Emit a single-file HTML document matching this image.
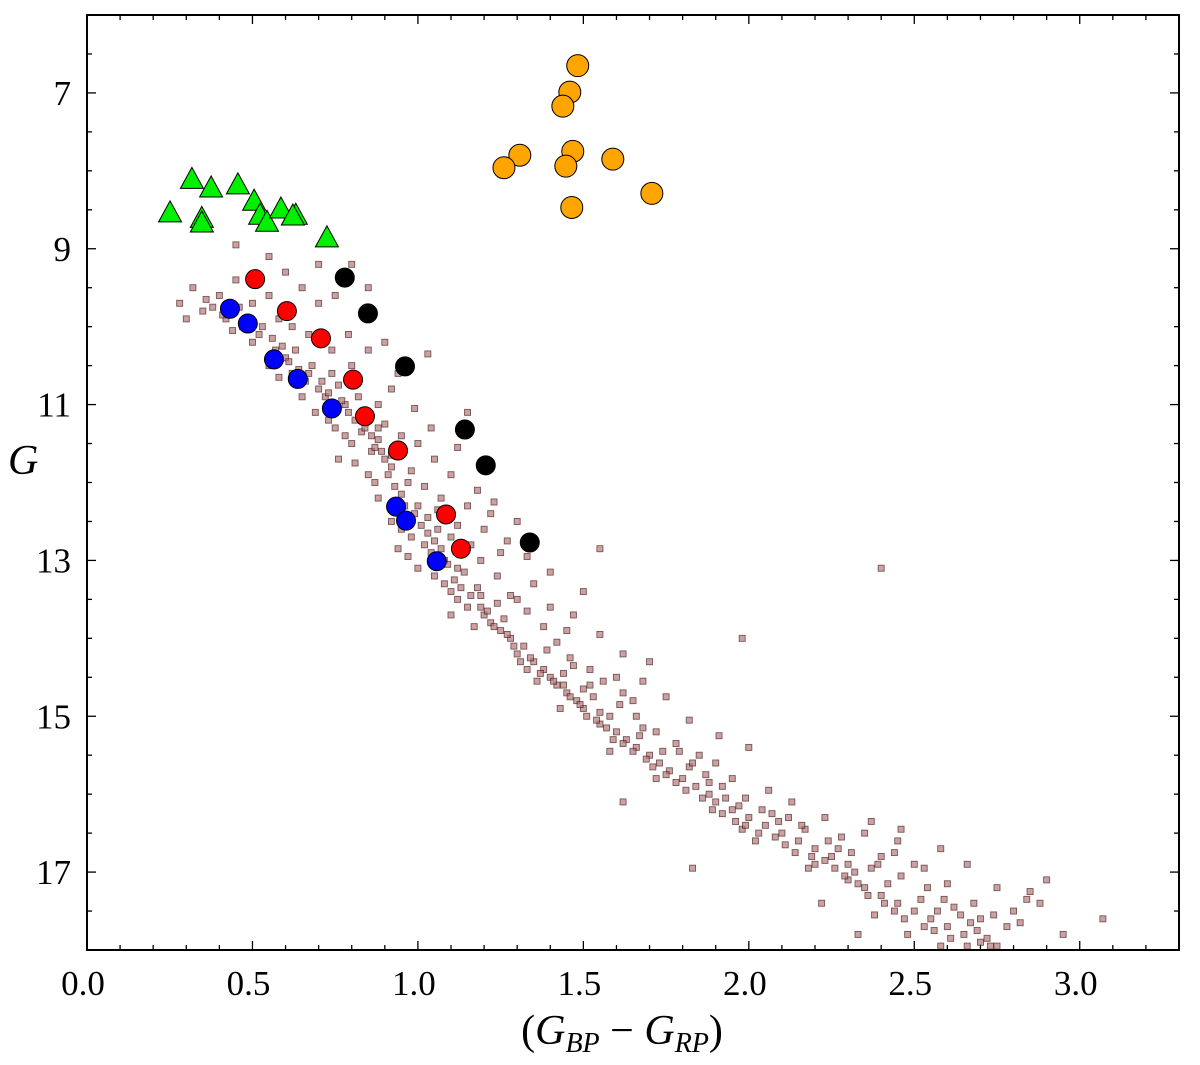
<!DOCTYPE html>
<html><head><meta charset="utf-8"><style>
body{margin:0;background:#fff;}
svg text{font-family:"Liberation Serif",serif;fill:#000;}
</style></head><body>
<svg id="chart" width="1200" height="1060" xmlns="http://www.w3.org/2000/svg">
<g id="bg"></g>
<g id="marks"></g>
<g id="axes"></g>
</svg>
<script>
const xTicks=[0.0,0.5,1.0,1.5,2.0,2.5,3.0];
const xTickLabels=["0.0","0.5","1.0","1.5","2.0","2.5","3.0"];
const yTicks=[7,9,11,13,15,17];
const yTickLabels=["7","9","11","13","15","17"];
const orangeX=[1.483,1.459,1.438,1.308,1.260,1.468,1.447,1.589,1.707,1.465];
const orangeY=[6.65,6.99,7.17,7.80,7.96,7.75,7.94,7.85,8.29,8.47];
const greenX=[0.251,0.317,0.375,0.456,0.505,0.523,0.544,0.586,0.631,0.347,0.347,0.622,0.725];
const greenY=[8.54,8.11,8.22,8.18,8.39,8.57,8.66,8.49,8.57,8.61,8.67,8.58,8.86];
const blackX=[0.779,0.849,0.961,1.142,1.205,1.338];
const blackY=[9.37,9.83,10.51,11.32,11.78,12.77];
const redX=[0.508,0.604,0.707,0.804,0.840,0.940,1.085,1.130];
const redY=[9.39,9.80,10.15,10.68,11.15,11.59,12.41,12.85];
const blueX=[0.432,0.486,0.565,0.637,0.740,0.934,0.964,1.057];
const blueY=[9.77,9.96,10.42,10.67,11.05,12.31,12.49,13.01];
const fieldStars=[[0.32,9.5],[0.35,9.8],[0.30,9.9],[0.40,9.6],[0.45,9.4],[0.50,9.7],[0.55,9.6],[0.42,9.9],[0.47,10.0],[0.38,9.75],[0.60,9.3],[0.65,9.5],[0.70,9.2],[0.58,9.9],[0.52,10.1],[0.45,8.95],[0.55,9.1],[0.75,9.6],[0.80,9.2],[0.85,9.5],[0.62,10.0],[0.50,10.2],[0.57,10.3],[0.44,10.05],[0.36,9.65],[0.28,9.7],
[0.55,10.5],[0.60,10.4],[0.62,10.6],[0.66,10.7],[0.68,10.5],[0.70,10.8],[0.72,10.9],[0.74,10.6],[0.65,10.9],[0.78,11.0],[0.80,10.5],[0.85,10.3],[0.90,10.2],[0.82,10.9],[0.76,10.75],[0.58,10.65],[0.69,11.1],[1.03,10.35],[0.92,10.8],[0.88,11.0],[0.73,11.2],[0.63,10.3],
[0.75,11.3],[0.78,11.4],[0.80,11.5],[0.83,11.35],[0.86,11.6],[0.88,11.45],[0.90,11.7],[0.92,11.8],[0.85,11.9],[0.95,11.4],[1.00,11.5],[1.05,11.7],[0.97,12.0],[0.81,11.75],[0.87,12.0],[0.93,11.55],[1.15,11.1],[1.10,11.9],[0.76,11.7],[0.90,11.25],[1.22,12.4],
[0.88,12.2],[0.92,12.5],[0.95,12.6],[0.98,12.7],[1.00,12.3],[1.02,12.8],[1.04,12.9],[0.97,12.95],[1.06,12.6],[1.08,13.0],[1.10,12.7],[1.15,12.3],[1.20,12.6],[1.00,13.1],[0.94,12.85],[1.12,13.1],[1.25,12.9],[1.30,12.5],[1.55,12.85],[1.03,12.45],[1.07,12.2],
[1.05,13.2],[1.08,13.3],[1.10,13.4],[1.12,13.5],[1.15,13.6],[1.18,13.35],[1.20,13.7],[1.22,13.8],[1.25,13.9],[1.28,14.0],[1.14,13.15],[1.30,13.5],[1.35,13.3],[1.40,13.6],[1.17,13.85],[1.32,14.1],[1.45,13.9],[1.24,13.55],[2.40,13.1],[1.50,13.4],[1.10,13.7],
[1.30,14.2],[1.35,14.3],[1.38,14.4],[1.40,14.5],[1.42,14.6],[1.45,14.7],[1.48,14.8],[1.50,14.9],[1.52,14.6],[1.55,14.95],[1.36,14.55],[1.47,14.35],[1.60,14.5],[1.65,14.8],[1.70,14.3],[1.58,15.0],[1.43,14.9],[1.98,14.0],[1.62,14.7],
[1.55,15.1],[1.60,15.2],[1.63,15.3],[1.66,15.4],[1.70,15.5],[1.73,15.6],[1.76,15.7],[1.80,15.8],[1.84,15.9],[1.88,16.0],[1.68,15.15],[1.78,15.35],[1.90,15.6],[1.95,15.8],[1.72,15.8],[1.85,15.5],[1.62,16.1],[2.00,15.4],[1.58,15.45],
[1.90,16.1],[1.95,16.2],[2.00,16.3],[2.05,16.4],[2.10,16.5],[2.15,16.6],[2.20,16.7],[2.25,16.8],[2.30,16.9],[2.02,16.6],[2.12,16.3],[2.35,16.5],[2.40,16.8],[2.45,16.6],[2.18,16.95],[1.98,16.45],[2.50,16.9],[2.28,16.55],[1.83,16.95],
[2.30,17.1],[2.35,17.2],[2.40,17.3],[2.45,17.4],[2.50,17.5],[2.55,17.6],[2.60,17.7],[2.65,17.8],[2.70,17.9],[2.75,17.95],[2.38,17.55],[2.48,17.8],[2.58,17.95],[2.62,17.45],[2.70,17.6],[2.80,17.5],[2.85,17.25],[2.90,17.1],[3.07,17.6],[2.95,17.8],[2.22,17.4],[2.33,17.8],[2.78,17.7],
[1.34,14.25],[1.44,14.45],[1.53,14.75],[1.67,15.25],[1.74,15.45],[1.82,15.65],[1.93,16.05],[2.07,16.25],[2.17,16.45],[2.27,16.7],[2.37,16.95],[2.42,17.15],[2.52,17.35],[2.57,17.5],[2.67,17.65],[2.72,17.85],[2.20,16.9],[2.32,17.0],[1.88,15.85],[1.97,16.15],[1.50,14.65],[1.39,14.15],[1.26,13.75],[1.19,13.45],
[0.41,9.85],[0.46,9.75],[0.49,9.9],[0.53,10.0],[0.56,10.15],[0.59,10.25],[0.61,10.45],[0.64,10.55],[0.67,10.6],[0.71,10.7],[0.73,10.85],[0.77,10.95],[0.79,11.1],[0.81,11.2],[0.84,11.3],[0.86,11.4],[0.87,11.55],[0.89,11.6],[0.91,11.9],[0.93,12.05],[0.95,12.15],[0.96,12.3],[0.99,12.4],[1.01,12.55],[1.03,12.65],[1.05,12.75],[1.07,12.85],[1.09,13.05],[1.11,13.25],[1.13,13.35],[1.16,13.45],[1.19,13.6],[1.21,13.65],[1.23,13.85],[1.27,13.95],[1.29,14.1],[1.31,14.3],[1.33,14.4],[1.37,14.45],[1.41,14.55],[1.44,14.6],[1.46,14.75],[1.49,14.85],[1.51,15.0],[1.54,15.05],[1.57,15.15],[1.59,15.3],[1.62,15.35],[1.65,15.45],[1.69,15.55],[1.71,15.65],[1.75,15.75],[1.78,15.85],[1.81,15.95],[1.86,16.05],[1.89,16.2],[1.92,16.25],[1.96,16.35],[1.99,16.4],[2.03,16.5],[2.08,16.55],[2.11,16.65],[2.14,16.75],[2.19,16.8],[2.23,16.85],[2.26,16.95],[2.29,17.05],[2.33,17.15],[2.36,17.3],[2.41,17.4],[2.44,17.5],[2.47,17.6],[2.53,17.7],[2.56,17.75],[2.61,17.85],[2.66,17.95],[2.69,17.75],[2.73,17.95],
[0.83,11.1],[0.88,11.3],[0.92,11.65],[0.98,11.85],[1.02,12.05],[1.06,12.35],[1.12,12.55],[1.16,12.8],[1.19,13.0],[1.24,13.2],[1.28,13.45],[1.33,13.65],[1.38,13.85],[1.42,14.05],[1.46,14.25],[1.52,14.4],[1.56,14.55],[1.61,14.85],[1.66,15.0],[1.72,15.2],[1.79,15.45],[1.83,15.6],[1.87,15.75],[1.92,15.9],[1.99,16.05],[2.04,16.2],[2.09,16.35],[2.16,16.4],[2.24,16.6],[2.31,16.75],[2.39,16.9],[2.46,17.05],[2.54,17.2],[2.59,17.35],[2.64,17.55],[2.68,17.4],[2.74,17.55],[2.82,17.65],[2.88,17.4],[2.60,17.15],[2.53,16.95],[2.44,16.75],
[0.70,9.7],[0.67,10.1],[0.74,10.3],[0.79,10.1],[0.94,10.6],[0.99,11.05],[1.04,11.3],[1.12,11.55],[1.18,12.1],[1.23,12.25],[1.27,12.75],[1.33,12.95],[1.40,13.15],[1.47,13.7],[1.55,13.95],[1.62,14.2],[1.68,14.55],[1.75,14.75],[1.82,15.05],[1.91,15.25],[2.06,15.95],[2.13,16.1],[2.23,16.3],[2.37,16.35],[2.46,16.45],[2.58,16.7],[2.66,16.9],[2.75,17.2],[2.84,17.35]];

const L=87,R=1179,T=15,B=950,XMIN=0,XMAX=3.3,YMIN=6,YMAX=18;
const sx=v=>L+(v-XMIN)/(XMAX-XMIN)*(R-L);
const sy=v=>T+(v-YMIN)/(YMAX-YMIN)*(B-T);
const NS="http://www.w3.org/2000/svg";
function mk(tag,parent){const e=document.createElementNS(NS,tag);parent.appendChild(e);return e;}
const bg=document.getElementById('bg'),marks=document.getElementById('marks'),axes=document.getElementById('axes');

fieldStars.forEach(p=>{
  const r=mk('rect',bg);
  
  
  r.setAttribute('x',sx(p[0])-3);r.setAttribute('y',sy(p[1])-3);
  r.setAttribute('width',6);r.setAttribute('height',6);
  r.setAttribute('fill','#b87a7a');r.setAttribute('stroke','#3a1010');r.setAttribute('stroke-width','0.9');r.setAttribute('opacity','0.7');
});
function circles(xs,ys,color,name){
  xs.forEach((x,i)=>{
    const c=mk('circle',marks);
    
    
    c.setAttribute('cx',sx(x));c.setAttribute('cy',sy(ys[i]));c.setAttribute('r',name==='orange-star'?11:9.5);
    c.setAttribute('fill',color);c.setAttribute('stroke','#000');c.setAttribute('stroke-width','1');
  });
}
circles(orangeX,orangeY,'#ffa500','orange-star');
greenX.forEach((x,i)=>{
  const cx=sx(x),cy=sy(greenY[i]);
  const t=mk('polygon',marks);
  
  
  t.setAttribute('points',`${cx},${cy-12} ${cx-11.5},${cy+9} ${cx+11.5},${cy+9}`);
  t.setAttribute('fill','#00f000');t.setAttribute('stroke','#000');t.setAttribute('stroke-width','1');
});
circles(blackX,blackY,'#000','black-star');
circles(redX,redY,'#ff0000','red-star');
circles(blueX,blueY,'#0000ff','blue-star');

const f=mk('rect',axes);


f.setAttribute('x',L);f.setAttribute('y',T);f.setAttribute('width',R-L);f.setAttribute('height',B-T);
f.setAttribute('fill','none');f.setAttribute('stroke','#000');f.setAttribute('stroke-width','2');
function line(x1,y1,x2,y2){const l=mk('line',axes);l.setAttribute('x1',x1);l.setAttribute('y1',y1);l.setAttribute('x2',x2);l.setAttribute('y2',y2);l.setAttribute('stroke','#000');l.setAttribute('stroke-width','1.3');}
for(let k=0;k<=33;k++){const v=k/10,x=sx(v),len=(k%5===0)?9:5;line(x,B,x,B-len);line(x,T,x,T+len);}
for(let k=0;k<=24;k++){const v=6+k*0.5,y=sy(v);const maj=(Math.abs((v-7)%2)<1e-6);const len=maj?9:5;line(L,y,L+len,y);line(R,y,R-len,y);}
xTicks.forEach((v,i)=>{const t=mk('text',axes);
  
  
  t.setAttribute('x',sx(v)-4);t.setAttribute('y',B+45);t.setAttribute('text-anchor','middle');t.setAttribute('font-size','35');t.textContent=xTickLabels[i];});
yTicks.forEach((v,i)=>{const t=mk('text',axes);
  
  
  t.setAttribute('x',L-16);t.setAttribute('y',sy(v)+12);t.setAttribute('text-anchor','end');t.setAttribute('font-size','35');t.textContent=yTickLabels[i];});
</script>
<svg style="position:absolute;left:0;top:0" width="1200" height="1060" xmlns="http://www.w3.org/2000/svg">
<text x="8" y="474" font-size="42" font-style="italic" style="font-family:'Liberation Serif',serif">G</text>
<text x="622" y="1044" text-anchor="middle" font-size="42" style="font-family:'Liberation Serif',serif">(<tspan font-style="italic">G</tspan><tspan font-size="28" dy="8" font-style="italic">BP</tspan><tspan dy="-8"> − </tspan><tspan font-style="italic">G</tspan><tspan font-size="28" dy="8" font-style="italic">RP</tspan><tspan dy="-8">)</tspan></text>
</svg>
</body></html>
